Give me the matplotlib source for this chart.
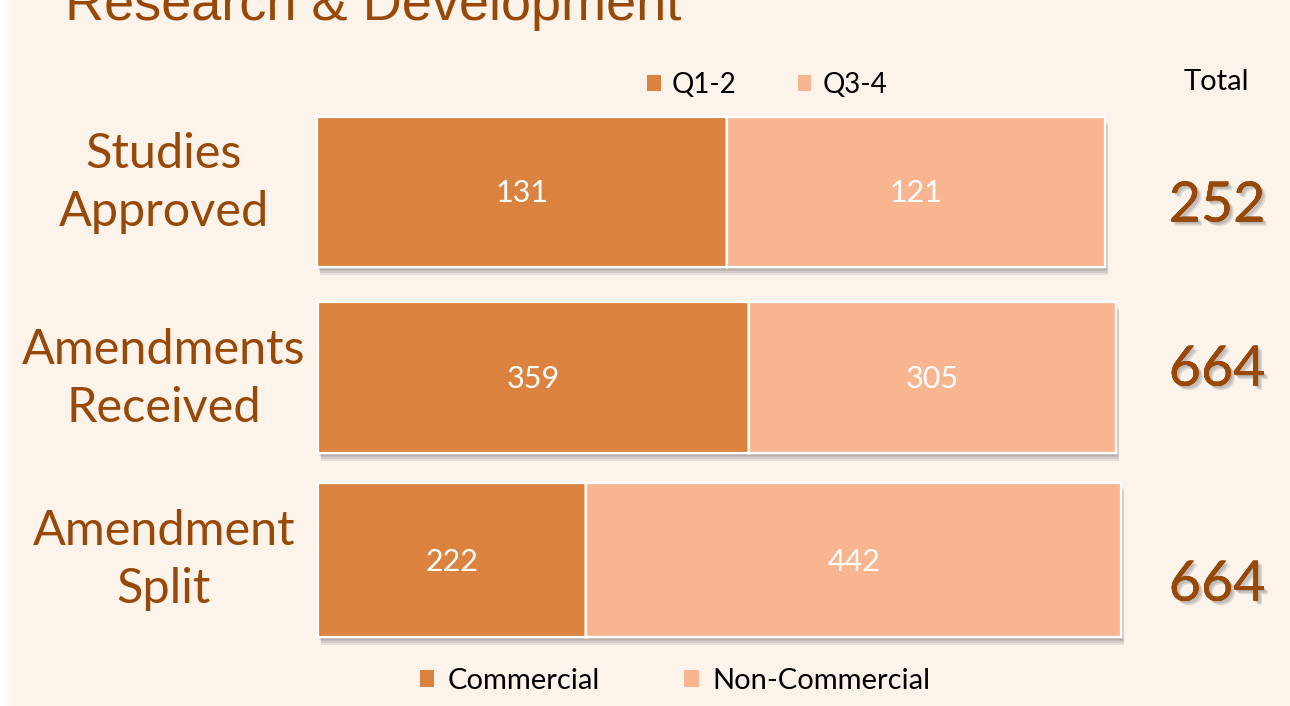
import matplotlib
matplotlib.use("Agg")
import matplotlib.pyplot as plt
import matplotlib.patheffects as pe
from matplotlib.patches import Patch
import numpy as np

# ── data ──────────────────────────────────────────────────────────────────────
title = "Research & Development"
categories = ["Studies\nApproved", "Amendments\nReceived", "Amendment\nSplit"]
first_part = [131, 359, 222]
second_part = [121, 305, 442]
totals = [252, 664, 664]
top_legend = ["Q1-2", "Q3-4"]
bottom_legend = ["Commercial", "Non-Commercial"]

BG = "#FCF3EB"
DARK = "#DB823E"
LIGHT = "#F8B590"
BROWN = "#984807"
LABEL_FONT = ["Lato", "DejaVu Sans"]

fig = plt.figure(figsize=(12.9, 7.06), dpi=100, facecolor=BG)

# soft white fade on the left edge of the slide
fade = fig.add_axes([0, 0, 0.014, 1])
grad = np.linspace(0, 1, 64)[None, :]
bg_rgb = np.array(matplotlib.colors.to_rgb(BG))
img = (1 - grad[..., None]) * np.ones(3) + grad[..., None] * bg_rgb
fade.imshow(img, aspect="auto", extent=(0, 1, 0, 1))
fade.axis("off")

fig.text(0.0504, 1 - 20 / 706, title, fontsize=39, color=BROWN,
         family="Liberation Sans", va="baseline", ha="left")

# one 100% bar per row: (left px, top px, right px, bottom px)
boxes = [(317, 117, 1105, 267), (318, 302, 1116, 453), (318, 483, 1121, 637)]
label_y = [183, 379, 560]
total_y = [206, 370, 585]

# soft, blurred-looking drop shadow built from a few faint layers
shadow = [pe.withSimplePatchShadow(offset=(o * 0.4, -o), shadow_rgbFace="#6f6f6f", alpha=0.16)
          for o in (1.0, 2.0, 3.0, 4.5, 6.0)] + [pe.Normal()]
text_shadow = [pe.withSimplePatchShadow(offset=(o, -o), shadow_rgbFace="#777777", alpha=0.22)
               for o in (1.0, 2.0, 3.0)] + [pe.Normal()]

for i, (x0, y0, x1, y1) in enumerate(boxes):
    ax = fig.add_axes([x0 / 1290, 1 - y1 / 706, (x1 - x0) / 1290, (y1 - y0) / 706])
    ax.set_xlim(0, totals[i])
    ax.set_ylim(-0.5, 0.5)
    ax.axis("off")
    a, b = first_part[i], second_part[i]
    for left, val, col in [(0, a, DARK), (a, b, LIGHT)]:
        bar = ax.barh(0, val, left=left, height=1, color=col, edgecolor="white",
                      linewidth=1.6, clip_on=False)
        bar[0].set_path_effects(shadow)
        ax.text(left + val / 2, -0.01, str(val), color="white", fontsize=22,
                family=LABEL_FONT, ha="center", va="center")

    fig.text(0.127, 1 - label_y[i] / 706, categories[i], fontsize=35, color=BROWN,
             family=LABEL_FONT, ha="center", va="center", linespacing=1.38)
    fig.text(1217 / 1290, 1 - total_y[i] / 706, str(totals[i]), fontsize=40, color=BROWN,
             family=LABEL_FONT, ha="center", va="center", path_effects=text_shadow)

fig.text(1216 / 1290, 1 - 82 / 706, "Total", fontsize=21, color="black",
         family=LABEL_FONT, ha="center", va="center")

handles_top = [Patch(facecolor=c, edgecolor="none") for c in (DARK, LIGHT)]
fig.legend(handles_top, top_legend, loc="center", bbox_to_anchor=(767 / 1290, 1 - 85 / 706),
           ncol=2, frameon=False, prop={"family": LABEL_FONT, "size": 20},
           handlelength=0.5, handleheight=0.5, handletextpad=0.4, columnspacing=2.2)

handles_bot = [Patch(facecolor=c, edgecolor="none") for c in (DARK, LIGHT)]
fig.legend(handles_bot, bottom_legend, loc="center", bbox_to_anchor=(675 / 1290, 1 - 681 / 706),
           ncol=2, frameon=False, prop={"family": LABEL_FONT, "size": 21},
           handlelength=0.5, handleheight=0.55, handletextpad=0.45, columnspacing=2.9)

fig.savefig("out.png", dpi=100, facecolor=BG)
